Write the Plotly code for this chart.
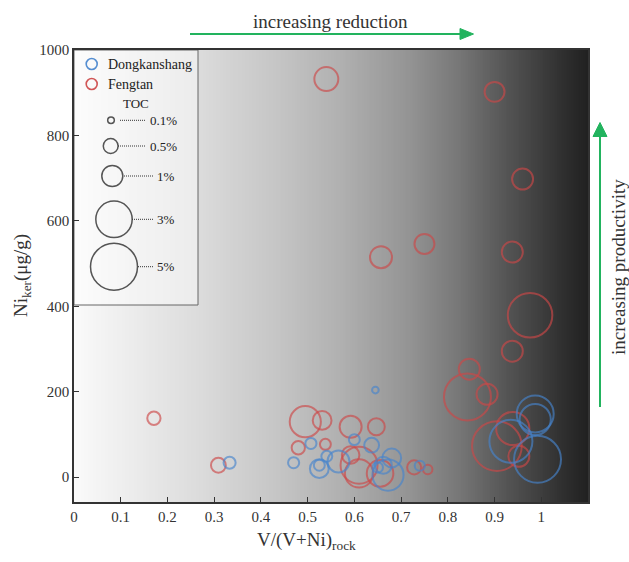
import numpy as np
import plotly.graph_objects as go

# ---------------- data ----------------
fengtan_x = [0.54, 0.90, 0.96, 0.75, 0.657, 0.938, 0.976, 0.938, 0.846, 0.842, 0.884,
             0.171, 0.309, 0.495, 0.531, 0.592, 0.647, 0.48, 0.538, 0.592, 0.61, 0.61,
             0.655, 0.728, 0.757, 0.905, 0.939, 0.952]
fengtan_y = [932, 902, 698, 546, 515, 527, 379, 295, 253, 188, 194,
             138, 28, 130, 133, 118, 118, 69, 77, 52, 28, 9,
             9, 23, 18, 73, 114, 49]
fengtan_toc = [1.3, 0.9, 1.0, 0.9, 1.1, 1.0, 4.5, 1.0, 1.0, 5.0, 1.0,
               0.4, 0.5, 2.2, 0.8, 1.1, 0.65, 0.4, 0.27, 0.7, 3.1, 1.8,
               1.6, 0.45, 0.2, 5.6, 2.5, 1.0]

dong_x = [0.333, 0.645, 0.507, 0.47, 0.60, 0.637, 0.541, 0.525, 0.525, 0.566,
          0.68, 0.662, 0.672, 0.74, 0.65, 0.987, 0.987, 0.935, 0.992]
dong_y = [34, 204, 79, 34, 88, 75, 49, 28, 20, 37,
          45, 28, 5, 27, 23, 148, 135, 84, 42]
dong_toc = [0.33, 0.1, 0.28, 0.28, 0.27, 0.5, 0.27, 0.27, 0.8, 1.1,
            0.8, 0.65, 2.2, 0.23, 0.25, 3.1, 2.2, 4.2, 5.0]

legend_toc = [0.1, 0.5, 1, 3, 5]
legend_toc_labels = ["0.1%", "0.5%", "1%", "3%", "5%"]

x_ticks = [0, 0.1, 0.2, 0.3, 0.4, 0.5, 0.6, 0.7, 0.8, 0.9, 1.0]
x_ticktext = ["0", "0.1", "0.2", "0.3", "0.4", "0.5", "0.6", "0.7", "0.8", "0.9", "1"]
y_ticks = [0, 200, 400, 600, 800, 1000]

# ---------------- layout geometry ----------------
W, H = 629, 562
L, R, T, B = 74, 588, 50, 502
XR = [0, 1.1]
YR = [-58, 1000]
FONT = "Liberation Serif"
RED = "rgba(205,72,72,0.92)"
BLUE = "rgba(70,132,205,0.92)"
GREEN = "#22b35e"

def px(x):
    return (x - L) / (R - L)

def py(y):
    return (B - y) / (B - T)

SIZEREF = 1 / 220.5

fig = go.Figure()

# background gradient
n = 300
edges = np.linspace(XR[0], XR[1], n + 1)
centers = (edges[:-1] + edges[1:]) / 2
fig.add_trace(go.Heatmap(
    x=edges, y=YR, z=[centers / XR[1]],
    colorscale=[[0, "#fafafa"], [0.24, "#dcdcdc"], [0.39, "#c6c6c6"], [0.52, "#b0b0b0"],
                [0.65, "#949494"], [0.745, "#787878"], [0.84, "#555555"],
                [0.94, "#333333"], [1, "#202020"]],
    zmin=0, zmax=1, showscale=False, hoverinfo="skip"))

marker_common = dict(sizemode="area", sizeref=SIZEREF, color="rgba(0,0,0,0)")
fig.add_trace(go.Scatter(
    x=fengtan_x, y=fengtan_y, mode="markers", name="Fengtan",
    marker=dict(size=fengtan_toc, line=dict(color=RED, width=2), **marker_common)))
fig.add_trace(go.Scatter(
    x=dong_x, y=dong_y, mode="markers", name="Dongkanshang",
    marker=dict(size=dong_toc, line=dict(color=BLUE, width=2), **marker_common)))

# legend box (pixel overlay axes)
fig.add_trace(go.Scatter(
    x=[L, 198, 198, L, L], y=[T, T, 305, 305, T], xaxis="x2", yaxis="y2",
    mode="lines", fill="toself", fillcolor="rgba(255,255,255,0.45)",
    line=dict(color="#666666", width=1), hoverinfo="skip"))
fig.add_trace(go.Scatter(
    x=[91.7, 91.7], y=[64, 84], xaxis="x2", yaxis="y2", mode="markers",
    marker=dict(size=11, color="rgba(0,0,0,0)", line=dict(color=[BLUE, RED], width=1.6)),
    hoverinfo="skip"))
leg_cx = [111, 110.7, 112.3, 114, 114]
leg_cy = [120.3, 146, 176, 219.3, 266.7]
fig.add_trace(go.Scatter(
    x=leg_cx, y=leg_cy, xaxis="x2", yaxis="y2", mode="markers",
    marker=dict(size=legend_toc, sizemode="area", sizeref=SIZEREF,
                color="rgba(0,0,0,0)", line=dict(color="#111111", width=1.5)),
    hoverinfo="skip"))

shapes = []
annotations = []
line_start = [120, 118, 124, 132, 138]
for cy, x0, lab in zip(leg_cy, line_start, legend_toc_labels):
    x1 = 146 if lab in ("0.1%", "0.5%") else 153
    shapes.append(dict(type="line", xref="paper", yref="paper",
                       x0=px(x0), x1=px(x1), y0=py(cy), y1=py(cy),
                       line=dict(color="#333333", width=1, dash="1px,1px")))
    annotations.append(dict(x=px(x1 + 1.5), y=py(cy), xref="paper", yref="paper",
                            text=lab, showarrow=False, xanchor="left", yanchor="middle",
                            font=dict(family=FONT, size=13, color="#222")))
annotations += [
    dict(x=px(106), y=py(64), xref="paper", yref="paper", text="Dongkanshang",
         showarrow=False, xanchor="left", yanchor="middle",
         font=dict(family=FONT, size=14, color="#222")),
    dict(x=px(106), y=py(84), xref="paper", yref="paper", text="Fengtan",
         showarrow=False, xanchor="left", yanchor="middle",
         font=dict(family=FONT, size=14, color="#222")),
    dict(x=px(135.7), y=py(104), xref="paper", yref="paper", text="TOC",
         showarrow=False, xanchor="center", yanchor="middle",
         font=dict(family=FONT, size=13, color="#222")),
    # axis titles
    dict(x=px(306), y=py(541), xref="paper", yref="paper",
         text="V/(V+Ni)<sub>rock</sub>", showarrow=False, xanchor="center", yanchor="middle",
         font=dict(family=FONT, size=19, color="#333")),
    dict(x=px(22), y=py(276), xref="paper", yref="paper", textangle=-90,
         text="Ni<sub>ker</sub>(μg/g)", showarrow=False, xanchor="center", yanchor="middle",
         font=dict(family=FONT, size=19, color="#333")),
    # arrow labels
    dict(x=px(330), y=py(21), xref="paper", yref="paper", text="increasing reduction",
         showarrow=False, xanchor="center", yanchor="middle",
         font=dict(family=FONT, size=19, color="#333")),
    dict(x=px(618), y=py(267), xref="paper", yref="paper", textangle=-90,
         text="increasing productivity", showarrow=False, xanchor="center", yanchor="middle",
         font=dict(family=FONT, size=19, color="#333")),
]

# arrows
shapes += [
    dict(type="line", xref="paper", yref="paper", x0=px(190), x1=px(462), y0=py(34), y1=py(34),
         line=dict(color=GREEN, width=2)),
    dict(type="path", xref="paper", yref="paper",
         path=f"M {px(473.5)} {py(34)} L {px(460)} {py(28.5)} L {px(460)} {py(39.5)} Z",
         fillcolor=GREEN, line=dict(color=GREEN, width=1)),
    dict(type="line", xref="paper", yref="paper", x0=px(600), x1=px(600), y0=py(407), y1=py(134),
         line=dict(color=GREEN, width=2)),
    dict(type="path", xref="paper", yref="paper",
         path=f"M {px(600)} {py(122.5)} L {px(593)} {py(136.5)} L {px(607)} {py(136.5)} Z",
         fillcolor=GREEN, line=dict(color=GREEN, width=1)),
]

axis_common = dict(showgrid=False, zeroline=False, showline=True, linecolor="#333333",
                   linewidth=1.5, mirror=True, ticks="inside", ticklen=5, tickwidth=1,
                   tickcolor="#333333", tickfont=dict(family=FONT, size=15, color="#333"))

fig.update_layout(
    width=W, height=H,
    margin=dict(l=L, r=W - R, t=T, b=H - B),
    paper_bgcolor="white", plot_bgcolor="white",
    showlegend=False,
    xaxis=dict(range=XR, tickvals=x_ticks, ticktext=x_ticktext, **axis_common),
    yaxis=dict(range=YR, tickvals=y_ticks, **axis_common),
    xaxis2=dict(range=[L, R], overlaying="x", anchor="y2", visible=False),
    yaxis2=dict(range=[B, T], overlaying="y", anchor="x2", visible=False),
    shapes=shapes, annotations=annotations,
)

fig.write_html("out.html")
